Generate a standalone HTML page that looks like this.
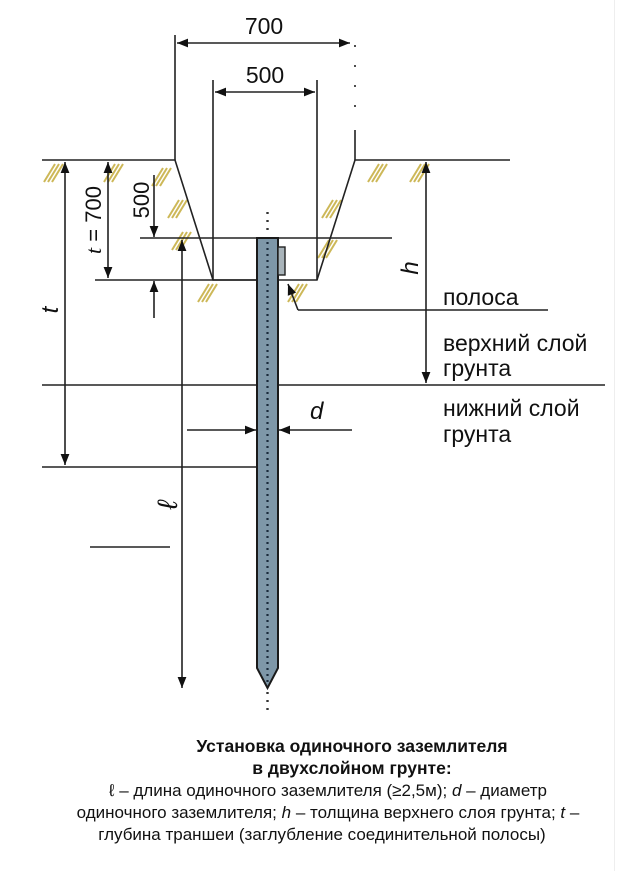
<!DOCTYPE html>
<html><head><meta charset="utf-8"><style>
html,body{margin:0;padding:0;background:#fff;}
svg{display:block;}
text{font-family:"Liberation Sans",sans-serif;fill:#111;}
</style></head><body>
<svg width="620" height="871" viewBox="0 0 620 871" xmlns="http://www.w3.org/2000/svg">
<defs>
<marker id="a" viewBox="0 0 10 10" refX="10" refY="5" markerWidth="11" markerHeight="11" markerUnits="userSpaceOnUse" orient="auto-start-reverse"><path d="M0,1 L10,5 L0,9 Z" fill="#111"/></marker>
<g id="h" stroke="#cdb858" stroke-width="2"><line x1="0" y1="18" x2="11" y2="0"/><line x1="4" y1="18" x2="15" y2="0"/><line x1="8" y1="18" x2="19" y2="0"/></g>
</defs>
<rect x="614" y="0" width="1" height="871" fill="#eee"/>
<use href="#h" x="44" y="164"/><use href="#h" x="104" y="164"/><use href="#h" x="152" y="168"/>
<use href="#h" x="168" y="200"/><use href="#h" x="172" y="232"/><use href="#h" x="198" y="284"/>
<use href="#h" x="288" y="284"/><use href="#h" x="322" y="200"/><use href="#h" x="318" y="240"/>
<use href="#h" x="368" y="164"/><use href="#h" x="410" y="164"/>
<g stroke="#222" stroke-width="1.6" fill="none">
<polyline points="42,160 175,160 213,280 317,280 355,160 510,160"/>
<line x1="175" y1="35" x2="175" y2="160"/>
<line x1="355" y1="130" x2="355" y2="160"/>
<line x1="355" y1="45" x2="355" y2="125" stroke-dasharray="2,18"/>
<line x1="213" y1="80" x2="213" y2="280"/>
<line x1="317" y1="80" x2="317" y2="280"/>
<line x1="177" y1="43" x2="320" y2="43" marker-start="url(#a)"/>
<line x1="320" y1="43" x2="350" y2="43" marker-end="url(#a)"/>
<line x1="215" y1="92" x2="315" y2="92" marker-start="url(#a)" marker-end="url(#a)"/>
<line x1="140" y1="238" x2="392" y2="238"/>
<line x1="95" y1="280" x2="257" y2="280"/>
<line x1="42" y1="385" x2="605" y2="385"/>
<line x1="42" y1="467" x2="257" y2="467"/>
<line x1="90" y1="547" x2="170" y2="547"/>
<line x1="65" y1="162" x2="65" y2="465" marker-start="url(#a)" marker-end="url(#a)"/>
<line x1="108" y1="162" x2="108" y2="278" marker-start="url(#a)" marker-end="url(#a)"/>
<line x1="154" y1="175" x2="154" y2="237" marker-end="url(#a)"/>
<line x1="154" y1="318" x2="154" y2="281" marker-end="url(#a)"/>
<line x1="182" y1="240" x2="182" y2="688" marker-start="url(#a)" marker-end="url(#a)"/>
<line x1="426" y1="162" x2="426" y2="383" marker-start="url(#a)" marker-end="url(#a)"/>
<line x1="187" y1="430" x2="256" y2="430" marker-end="url(#a)"/>
<line x1="352" y1="430" x2="279" y2="430" marker-end="url(#a)"/>
<polyline points="298,310 548,310"/>
<line x1="298" y1="310" x2="288" y2="284" marker-end="url(#a)"/>
</g>
<path d="M257,238 L278,238 L278,668 L267.5,688 L257,668 Z" fill="#7e97a8" stroke="#1a1a1a" stroke-width="2"/>
<line x1="267.5" y1="242" x2="267.5" y2="684" stroke="#1a2a3a" stroke-width="2.2" stroke-dasharray="2,4"/>
<line x1="267.5" y1="212" x2="267.5" y2="234" stroke="#333" stroke-width="2.4" stroke-dasharray="2,6"/>
<line x1="267.5" y1="692" x2="267.5" y2="712" stroke="#333" stroke-width="2.4" stroke-dasharray="2,6"/>
<rect x="278" y="247" width="7" height="28" fill="#a9b4ba" stroke="#222" stroke-width="1.4"/>
<text x="264" y="34" font-size="23" text-anchor="middle">700</text>
<text x="265" y="83" font-size="23" text-anchor="middle">500</text>
<text transform="translate(149,200) rotate(-90)" font-size="22" text-anchor="middle">500</text>
<text transform="translate(101,220) rotate(-90)" font-size="22" text-anchor="middle"><tspan font-style="italic" font-family="Liberation Serif">t</tspan> = 700</text>
<text transform="translate(58,310) rotate(-90)" font-size="24" font-style="italic" font-family="Liberation Serif" text-anchor="middle">t</text>
<text transform="translate(418,268) rotate(-90)" font-size="24" font-style="italic" font-family="Liberation Serif" text-anchor="middle">h</text>
<text transform="translate(177,505) rotate(-90)" font-size="28" font-style="italic" font-family="Liberation Serif" text-anchor="middle">ℓ</text>
<text x="310" y="419" font-size="24" font-style="italic" font-family="Liberation Serif">d</text>
<text x="443" y="305" font-size="23">полоса</text>
<text x="443" y="351" font-size="23">верхний слой</text>
<text x="443" y="376" font-size="23">грунта</text>
<text x="443" y="416" font-size="23">нижний слой</text>
<text x="443" y="442" font-size="23">грунта</text>
<text x="352" y="752" font-size="17.5" font-weight="bold" text-anchor="middle">Установка одиночного заземлителя</text>
<text x="352" y="774" font-size="17.5" font-weight="bold" text-anchor="middle">в двухслойном грунте:</text>
<text x="328" y="796" font-size="17" text-anchor="middle" fill="#222">ℓ – длина одиночного заземлителя (≥2,5м); <tspan font-style="italic">d</tspan> – диаметр</text>
<text x="328" y="818" font-size="17" text-anchor="middle" fill="#222">одиночного заземлителя; <tspan font-style="italic">h</tspan> – толщина верхнего слоя грунта; <tspan font-style="italic">t</tspan> –</text>
<text x="322" y="840" font-size="17" text-anchor="middle" fill="#222">глубина траншеи (заглубление соединительной полосы)</text>
</svg>
</body></html>
